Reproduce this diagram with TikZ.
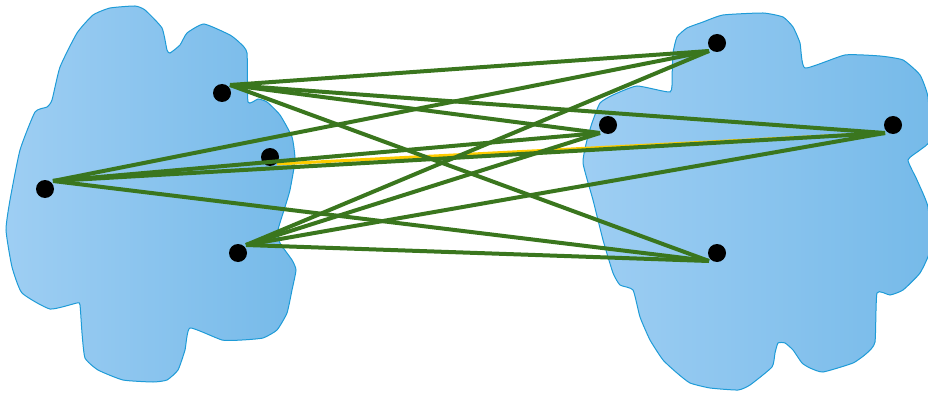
\documentclass[tikz,border=0pt]{standalone}
\usepackage{tikz}
\definecolor{blobline}{RGB}{30,155,215}
\definecolor{blobleft}{RGB}{158,206,243}
\definecolor{blobright}{RGB}{118,186,233}
\definecolor{linkgreen}{RGB}{58,118,30}
\definecolor{hiyellow}{RGB}{255,204,0}

\begin{document}
\begin{tikzpicture}[x=1pt, y=-1pt,
        vertex/.style={circle, fill=black, inner sep=0pt, minimum size=18pt},
        link/.style={draw=linkgreen, line width=4pt},
        blob/.style={draw=blobline, line width=1pt, left color=blobleft, right color=blobright}]

        \useasboundingbox (0,0) rectangle (928,393);

        % left region
        \path[blob] plot[smooth cycle, tension=0.3] coordinates {
            (135,6) (145,10) (162,28) (167,50) (170,53) (180,45) (187,33) (204,24)
            (230,35) (240,43) (247,53) (248,102) (258,99) (267,102) (280,115)
            (292,137) (295,160) (290,190) (285,207) (278,230) (280,243) (292,260)
            (296,270) (292,290) (287,313) (277,330) (263,338) (242,340) (222,340)
            (190,328) (185,350) (178,370) (167,380) (153,382) (123,380) (98,370)
            (85,358) (82,333) (80,305) (77,303) (50,309) (22,293) (12,267) (6,230)
            (10,200) (20,150) (35,112) (47,107) (52,100) (60,67) (77,33) (93,15)
            (110,8)};

        % right region
        \path[blob] plot[smooth cycle, tension=0.3] coordinates {
            (723,15) (763,13) (783,17) (793,27) (800,43) (805,68) (845,55) (880,56)
            (903,60) (920,75) (928,97) (930,140) (920,150) (908,160) (917,180)
            (928,207) (930,250) (920,273) (903,290) (890,295) (877,293) (875,342)
            (867,353) (853,363) (823,372) (810,368) (802,363) (793,350) (785,343)
            (778,343) (775,353) (772,367) (750,385) (738,390) (710,388) (690,383)
            (677,373) (663,360) (650,340) (640,317) (633,290) (620,285) (613,273)
            (603,240) (593,200) (583,163) (587,140) (592,123) (600,103) (613,95)
            (637,86) (670,92) (672,77) (673,53) (677,37) (687,28) (703,22)};

        % points
        \node[vertex] (l_top) at (222,93) {};
        \node[vertex] (l_mid) at (270,157) {};
        \node[vertex] (l_far) at (45,189) {};
        \node[vertex] (l_bot) at (238,253) {};
        \node[vertex] (r_top) at (717,43) {};
        \node[vertex] (r_mid) at (608,125) {};
        \node[vertex] (r_far) at (893,125) {};
        \node[vertex] (r_bot) at (717,253) {};

        \foreach \p in {l_top, l_far, l_bot}
            \coordinate (\p_e) at ([shift={(8,-8)}]\p.center);
        \foreach \p in {r_top, r_mid, r_far, r_bot}
            \coordinate (\p_e) at ([shift={(-8,8)}]\p.center);
        \coordinate (l_mid_e) at ([shift={(7,7)}]l_mid.center);

        \draw[hiyellow, line width=3pt] (l_mid_e) -- (r_far_e);

        \foreach \a in {l_top, l_far, l_bot}
            \foreach \b in {r_top, r_mid, r_far, r_bot}
                \draw[link] (\a_e) -- (\b_e);

    \end{tikzpicture}
\end{document}
